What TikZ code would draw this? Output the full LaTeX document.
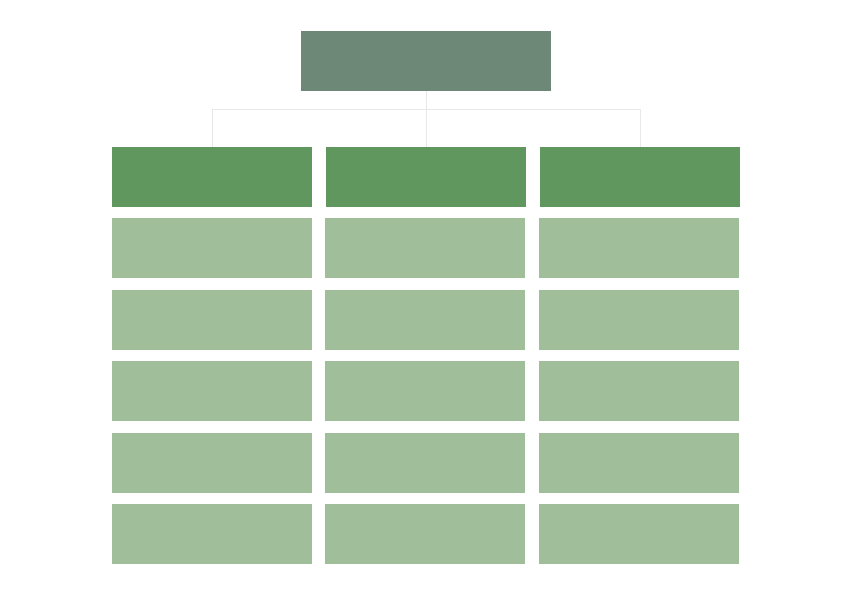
\documentclass[tikz,border=0pt]{standalone}
\usetikzlibrary{positioning}
\definecolor{topc}{HTML}{6E8878}
\definecolor{headc}{HTML}{5F975E}
\definecolor{cellc}{HTML}{A1BE9B}
\definecolor{linec}{HTML}{E8E8E8}
\begin{document}
\begin{tikzpicture}[x=1pt,y=-1pt,
  box/.style={rectangle,inner sep=0pt,outer sep=0pt,anchor=north west,minimum width=200pt,minimum height=60pt},
  topbox/.style={box,fill=topc,minimum width=250pt},
  headbox/.style={box,fill=headc},
  cellbox/.style={box,fill=cellc},
  conn/.style={draw=linec,line width=1pt}]
\useasboundingbox[fill=white] (0,0) rectangle (847,592);
\node[topbox] (top) at (301,31) {};
\node[headbox] (h1) at (112,147) {};
\node[headbox] (h2) at (326,147) {};
\node[headbox] (h3) at (540,147) {};
\coordinate (j) at (426,109);
\draw[conn] (top.south) -- (j);
\draw[conn] (j) -| (h1.north);
\draw[conn] (j) -| (h3.north);
\draw[conn] (j) -- (h2.north);
\foreach \r/\y in {1/218,2/290,3/361,4/433,5/504}{
  \node[cellbox] (c1\r) at (112,\y) {};
  \node[cellbox] (c2\r) at (325,\y) {};
  \node[cellbox] (c3\r) at (539,\y) {};
}
\end{tikzpicture}
\end{document}
